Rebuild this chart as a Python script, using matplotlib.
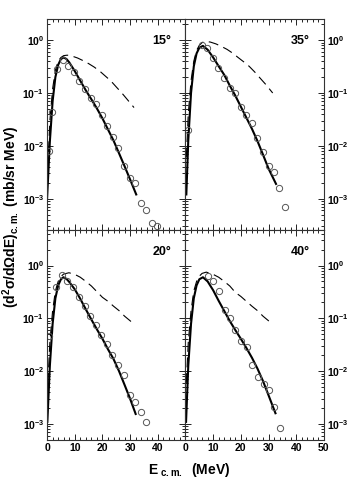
import numpy as np
import matplotlib
matplotlib.use("Agg")
import matplotlib.pyplot as plt
from matplotlib.ticker import FixedLocator, LogLocator, MultipleLocator, NullFormatter

plt.rcParams['font.family'] = ['Liberation Sans', 'DejaVu Sans']
plt.rcParams['font.weight'] = 'bold'
plt.rcParams['mathtext.fontset'] = 'custom'
plt.rcParams['mathtext.rm'] = 'Liberation Sans:bold'
plt.rcParams['mathtext.bf'] = 'Liberation Sans:bold'
plt.rcParams['mathtext.it'] = 'Liberation Sans:bold'
plt.rcParams['mathtext.default'] = 'bf'

# ---- data: 15 deg ----
e15_exp = [0.8, 1.6, 3.7, 5.9, 7.7, 9.8, 11.6, 13.7, 15.8, 17.8, 19.7, 21.8, 23.8, 25.7, 27.8, 29.8, 31.8, 33.8, 35.7, 37.8, 39.6]
y15_exp = [0.008, 0.044, 0.29, 0.43, 0.32, 0.25, 0.17, 0.12, 0.081, 0.063, 0.039, 0.024, 0.015, 0.0092, 0.0041, 0.0025, 0.0020, 0.00083, 0.00062, 0.00034, 0.00031]
e15_fit = [0, 1, 2, 3, 4, 5, 6, 7, 8, 10, 12, 14, 16, 18, 20, 22, 24, 26, 28, 30, 32.2]
y15_fit = [0.001, 0.012, 0.07, 0.2, 0.34, 0.44, 0.47, 0.44, 0.38, 0.26, 0.17, 0.112, 0.076, 0.051, 0.033, 0.0204, 0.0126, 0.0072, 0.0041, 0.0023, 0.0012]
e15_calc = [0.3, 1, 2, 3, 4, 5, 6, 7.3, 9, 11, 13, 15, 17, 19, 21, 23, 25, 27, 29, 31.4]
y15_calc = [0.004, 0.03, 0.12, 0.27, 0.4, 0.47, 0.51, 0.52, 0.5, 0.46, 0.41, 0.36, 0.31, 0.26, 0.21, 0.17, 0.13, 0.1, 0.075, 0.053]

# ---- data: 35 deg ----
e35_exp = [0.8, 6.0, 7.8, 9.9, 11.9, 13.8, 15.9, 17.9, 19.9, 21.9, 23.9, 25.9, 27.9, 30.0, 32.1, 33.9, 36.0]
y35_exp = [0.02, 0.80, 0.71, 0.46, 0.30, 0.19, 0.127, 0.10, 0.054, 0.038, 0.027, 0.014, 0.0076, 0.0041, 0.0032, 0.0016, 0.00069]
e35_fit = [0.3, 1, 2, 3, 4, 5, 6.3, 8, 10, 12, 14, 16, 18, 20, 22, 24, 26, 28, 30, 32.7]
y35_fit = [0.0012, 0.0126, 0.1, 0.32, 0.56, 0.72, 0.78, 0.66, 0.47, 0.32, 0.22, 0.138, 0.089, 0.055, 0.034, 0.021, 0.0123, 0.0068, 0.0037, 0.0019]
e35_calc = [0.3, 1, 2, 3, 4, 5, 6, 7.2, 9, 11, 13, 15, 17, 19, 21, 23, 25, 27, 29, 31.5]
y35_calc = [0.006, 0.04, 0.17, 0.4, 0.64, 0.8, 0.9, 0.95, 0.92, 0.85, 0.76, 0.67, 0.57, 0.47, 0.39, 0.32, 0.25, 0.19, 0.145, 0.1]

# ---- data: 20 deg ----
e20_exp = [0.7, 3.4, 5.5, 7.3, 9.4, 11.6, 13.6, 15.5, 17.6, 19.6, 21.5, 23.6, 25.6, 27.8, 29.8, 31.8, 33.8, 35.9]
y20_exp = [0.046, 0.40, 0.67, 0.50, 0.40, 0.25, 0.17, 0.11, 0.076, 0.049, 0.033, 0.020, 0.013, 0.0086, 0.0035, 0.0026, 0.0017, 0.0011]
e20_fit = [0.1, 1, 2, 3, 4, 5, 5.9, 7, 8, 10, 12, 14, 16, 18, 20, 22, 24, 26, 28, 30, 32]
y20_fit = [0.0011, 0.0126, 0.079, 0.24, 0.42, 0.55, 0.60, 0.56, 0.49, 0.355, 0.234, 0.148, 0.095, 0.062, 0.041, 0.026, 0.017, 0.01, 0.0055, 0.003, 0.00155]
e20_calc = [0.3, 1, 2, 3, 4, 5, 6, 7.9, 10, 12, 14, 16, 18, 20, 22, 24, 26, 28, 30, 31.4]
y20_calc = [0.006, 0.035, 0.14, 0.33, 0.5, 0.62, 0.69, 0.73, 0.68, 0.6, 0.5, 0.41, 0.32, 0.25, 0.21, 0.17, 0.14, 0.11, 0.09, 0.078]

# ---- data: 40 deg ----
e40_exp = [8.1, 10.1, 12.0, 14.1, 16.1, 18.0, 20.1, 22.1, 24.1, 26.1, 28.2, 30.1, 32.1, 34.2]
y40_exp = [0.63, 0.50, 0.33, 0.146, 0.10, 0.059, 0.038, 0.029, 0.013, 0.0077, 0.0057, 0.0044, 0.0021, 0.00083]
e40_fit = [0.2, 1, 2, 3, 4, 5, 6.3, 8, 10, 12, 14, 16, 18, 20, 22, 24, 26, 28, 30, 32.5]
y40_fit = [0.0011, 0.0126, 0.079, 0.24, 0.42, 0.55, 0.60, 0.50, 0.34, 0.214, 0.138, 0.089, 0.06, 0.041, 0.0275, 0.018, 0.0112, 0.0065, 0.0035, 0.0016]
e40_calc = [0.3, 1, 2, 3, 4, 5, 6, 7.5, 10, 12, 14, 16, 18, 20, 22, 24, 26, 28, 30, 31.5]
y40_calc = [0.006, 0.035, 0.14, 0.33, 0.5, 0.63, 0.71, 0.75, 0.68, 0.6, 0.5, 0.41, 0.31, 0.26, 0.21, 0.17, 0.14, 0.11, 0.09, 0.079]

angles = ['15°', '35°', '20°', '40°']
decade_ticks = [1e-3, 1e-2, 1e-1, 1e0]
decade_labels = ['10$^{-3}$', '10$^{-2}$', '10$^{-1}$', '10$^{0}$']

fig, axs = plt.subplots(2, 2, figsize=(3.54, 4.91), dpi=100)
fig.subplots_adjust(left=0.133, right=0.915, top=0.961, bottom=0.104, wspace=0, hspace=0)

panels = [
    (axs[0, 0], e15_exp, y15_exp, e15_fit, y15_fit, e15_calc, y15_calc),
    (axs[0, 1], e35_exp, y35_exp, e35_fit, y35_fit, e35_calc, y35_calc),
    (axs[1, 0], e20_exp, y20_exp, e20_fit, y20_fit, e20_calc, y20_calc),
    (axs[1, 1], e40_exp, y40_exp, e40_fit, y40_fit, e40_calc, y40_calc),
]

for i, (ax, ex, ey, fx, fy, cx, cy) in enumerate(panels):
    row, col = divmod(i, 2)
    ax.set_yscale('log')
    ax.plot(cx, cy, color='black', lw=0.8, dashes=(9, 5))
    ax.plot(fx, fy, color='black', lw=1.5)
    ax.plot(ex, ey, 'o', mfc='none', mec='#555555', mew=0.7, ms=4.5)
    ax.set_xlim(0, 50)
    if row == 0:
        ax.set_ylim(2.6e-4, 2.5)
    else:
        ax.set_ylim(5e-4, 4.8)

    ax.xaxis.set_major_locator(MultipleLocator(10))
    ax.xaxis.set_minor_locator(MultipleLocator(2))
    ax.yaxis.set_major_locator(FixedLocator(decade_ticks))
    ax.yaxis.set_minor_locator(LogLocator(base=10, subs=np.arange(2, 10), numticks=20))
    ax.yaxis.set_minor_formatter(NullFormatter())
    ax.set_yticks(decade_ticks)
    ax.set_yticklabels(decade_labels)

    ax.tick_params(which='both', direction='in', top=True, bottom=True, left=True, right=True,
                   labelsize=7.5, pad=2, width=0.6, colors='black')
    ax.tick_params(which='major', length=4)
    ax.tick_params(which='minor', length=2)
    if col == 1:
        ax.tick_params(labelleft=False, labelright=True)
    if row == 0:
        ax.tick_params(labelbottom=False)
    else:
        if col == 0:
            ax.set_xticks([0, 10, 20, 30, 40, 50])
            ax.set_xticklabels(['0', '10', '20', '30', '40', ''])
    for s in ax.spines.values():
        s.set_linewidth(0.8)
        s.set_color('#333333')
    ax.text(0.83, 0.895, angles[i], transform=ax.transAxes, ha='center', va='center', fontsize=9)

fig.text(0.032, 0.558, '(d$^{2}$σ/dΩdE)$_{c.m.}$ (mb/sr MeV)', rotation=90, ha='center', va='center', fontsize=10)
fig.text(0.535, 0.042, 'E$_{\\ c.m.}$  (MeV)', ha='center', va='center', fontsize=10)

fig.savefig('out.png', dpi=100)
